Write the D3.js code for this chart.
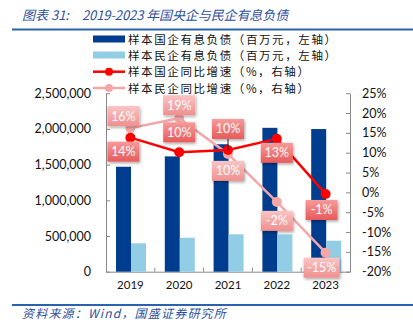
<!DOCTYPE html>
<html><head><meta charset="utf-8">
<script src="https://cdn.jsdelivr.net/npm/d3@7"></script>
<style>
html,body{margin:0;padding:0;background:#fff;}
svg{display:block;}
</style></head>
<body>
<script>
const years = ["2019","2020","2021","2022","2023"];
const soeDebt = [1470000, 1615000, 1785000, 2015000, 1998000];
const poeDebt = [398000, 476000, 524000, 522000, 434000];
const soeGrowth = [13.8, 10.1, 10.7, 13.5, -0.4];
const poeGrowth = [16.2, 18.7, 9.7, -2.4, -15.2];
const soeLabels = ["14%","10%","10%","13%","-1%"];
const poeLabels = ["16%","19%","10%","-2%","-15%"];
const leftTicks = [0, 500000, 1000000, 1500000, 2000000, 2500000];
const rightTicks = [-20,-15,-10,-5,0,5,10,15,20,25];
const legendItems = ["样本国企有息负债（百万元，左轴）","样本民企有息负债（百万元，左轴）","样本国企同比增速（%，右轴）","样本民企同比增速（%，右轴）"];

const W=413,H=331;
const svg=d3.select("body").append("svg").attr("width",W).attr("height",H);
const defs=svg.append("defs");
function grad(id,top,bot){
  const g=defs.append("linearGradient").attr("id",id).attr("x1",0).attr("y1",0).attr("x2",0).attr("y2",1);
  g.append("stop").attr("offset","0%").attr("stop-color",top);
  g.append("stop").attr("offset","100%").attr("stop-color",bot);
}
grad("gRed","#f89a9a","#e85a5a");
grad("gPink","#fbc4c4","#f08f8f");
const f=defs.append("filter").attr("id","sh").attr("x","-30%").attr("y","-30%").attr("width","160%").attr("height","170%");
f.append("feDropShadow").attr("dx",1).attr("dy",1.5).attr("stdDeviation",1.5).attr("flood-color","#000").attr("flood-opacity",0.35);

const blue="#2c4f9e";
// title
const title=svg.append("text").attr("y",20).attr("fill",blue)
  .attr("font-family","'Noto Sans CJK SC',sans-serif").attr("font-size",13).attr("font-style","italic");
title.append("tspan").attr("x",22).text("图表 31:");
title.append("tspan").attr("x",82).attr("letter-spacing",-0.1).text("2019-2023 年国央企与民企有息负债");
svg.append("line").attr("x1",12).attr("x2",413).attr("y1",29.5).attr("y2",29.5).attr("stroke","#2a62b0").attr("stroke-width",2);
svg.append("line").attr("x1",12).attr("x2",413).attr("y1",305).attr("y2",305).attr("stroke","#2a62b0").attr("stroke-width",2);
svg.append("text").attr("x",22).attr("y",317.5).attr("fill",blue)
  .attr("font-family","'Noto Sans CJK SC',sans-serif").attr("font-size",12).attr("letter-spacing",1.2).attr("font-style","italic")
  .text("资料来源：Wind，国盛证券研究所");

const x=d3.scaleBand().domain(years).range([106,350]);
const xs=d3.scaleBand().domain(["soe","poe"]).range([10,40]);
const yL=d3.scaleLinear().domain([0,2500000]).range([271.7,93.2]);
const yR=d3.scaleLinear().domain([-20,25]).range([271.7,93.2]);

const numFont="Lato, 'Liberation Sans', sans-serif";
// left axis
const gl=svg.append("g").attr("transform","translate(106,0)")
  .call(d3.axisLeft(yL).tickValues(leftTicks).tickSizeInner(-4).tickSizeOuter(0).tickPadding(15).tickFormat(d3.format(",")));
gl.selectAll("text").attr("font-family",numFont).attr("font-size",12.5).attr("fill","#111");
// right axis
const gr=svg.append("g").attr("transform","translate(350,0)")
  .call(d3.axisRight(yR).tickValues(rightTicks).tickSizeInner(-4).tickSizeOuter(0).tickPadding(12).tickFormat(d=>d+"%"));
gr.selectAll("text").attr("font-family",numFont).attr("font-size",12.5).attr("fill","#111");
// bottom axis
const gb=svg.append("g").attr("transform","translate(0,271.7)")
  .call(d3.axisBottom(x).tickSize(0).tickPadding(9));
gb.selectAll("text").attr("font-family",numFont).attr("font-size",11.5).attr("fill","#111");
gb.selectAll(".sep").data(years.slice(1)).enter().append("line")
  .attr("x1",d=>x(d)).attr("x2",d=>x(d)).attr("y1",0).attr("y2",-4).attr("stroke","#888");
[gl,gr,gb].forEach(g=>{g.selectAll("path,line").attr("stroke","#888");});

// bars
const bars=svg.append("g");
bars.selectAll(".s").data(years).enter().append("rect")
  .attr("x",d=>x(d)+xs("soe")).attr("width",xs.bandwidth())
  .attr("y",(d,i)=>yL(soeDebt[i])).attr("height",(d,i)=>yL(0)-yL(soeDebt[i])).attr("fill","#003d8f");
bars.selectAll(".p").data(years).enter().append("rect")
  .attr("x",d=>x(d)+xs("poe")).attr("width",xs.bandwidth())
  .attr("y",(d,i)=>yL(poeDebt[i])).attr("height",(d,i)=>yL(0)-yL(poeDebt[i])).attr("fill","#92cde6");

const cx=d=>x(d)+x.bandwidth()/2;
const line=d3.line().x(d=>cx(d[0])).y(d=>yR(d[1]));
function drawSeries(vals,color){
  const pts=years.map((y,i)=>[y,vals[i]]);
  svg.append("path").attr("d",line(pts)).attr("fill","none").attr("stroke",color).attr("stroke-width",2.5);
  svg.selectAll(null).data(pts).enter().append("circle")
    .attr("cx",d=>cx(d[0])).attr("cy",d=>yR(d[1])).attr("r",5).attr("fill",color);
}
drawSeries(poeGrowth,"#f4a7a7");
drawSeries(soeGrowth,"#ff0000");

// data labels: offset (dy of box center relative to point)
const soeOff=[14,-20,-21,14,16];
const poeOff=[-12,-13,17,19,15];
// leader line for 2021 soe
svg.append("line").attr("x1",cx("2021")).attr("x2",cx("2021")).attr("y1",yR(soeGrowth[2])+soeOff[2]+10).attr("y2",yR(soeGrowth[2])).attr("stroke","#222").attr("stroke-width",1);
function labels(vals,texts,offs,fill){
  years.forEach((y,i)=>{
    const w=texts[i].length>3?36:32, h=20;
    const px=cx(y)+ (i===0? -7: (i===4? -4:0)), py=yR(vals[i])+offs[i];
    const g=svg.append("g");
    g.append("rect").attr("x",px-w/2).attr("y",py-h/2).attr("width",w).attr("height",h)
      .attr("fill",fill).attr("filter","url(#sh)");
    g.append("text").attr("x",px).attr("y",py+4.5).attr("text-anchor","middle").attr("fill","#fff")
      .attr("font-family",numFont).attr("font-size",12.5).text(texts[i]);
  });
}
labels(poeGrowth,poeLabels,poeOff,"url(#gPink)");
labels(soeGrowth,soeLabels,soeOff,"url(#gRed)");

// legend
const lg=svg.append("g");
const rows=[39,55,71.7,88];
lg.append("rect").attr("x",93).attr("y",35.5).attr("width",32).attr("height",7).attr("fill","#003d8f");
lg.append("rect").attr("x",93).attr("y",51.5).attr("width",32).attr("height",7).attr("fill","#92cde6");
[["#ff0000",rows[2]],["#f4a7a7",rows[3]]].forEach(([c,yy])=>{
  lg.append("line").attr("x1",93).attr("x2",125).attr("y1",yy).attr("y2",yy).attr("stroke",c).attr("stroke-width",2.5);
  lg.append("circle").attr("cx",109).attr("cy",yy).attr("r",4).attr("fill",c);
});
legendItems.forEach((t,i)=>{
  lg.append("text").attr("x",128).attr("y",rows[i]+4.5).attr("font-family","'Noto Sans CJK SC',sans-serif")
    .attr("font-size",11.5).attr("letter-spacing",1.6).attr("fill","#111").text(t);
});
</script>
</body></html>
